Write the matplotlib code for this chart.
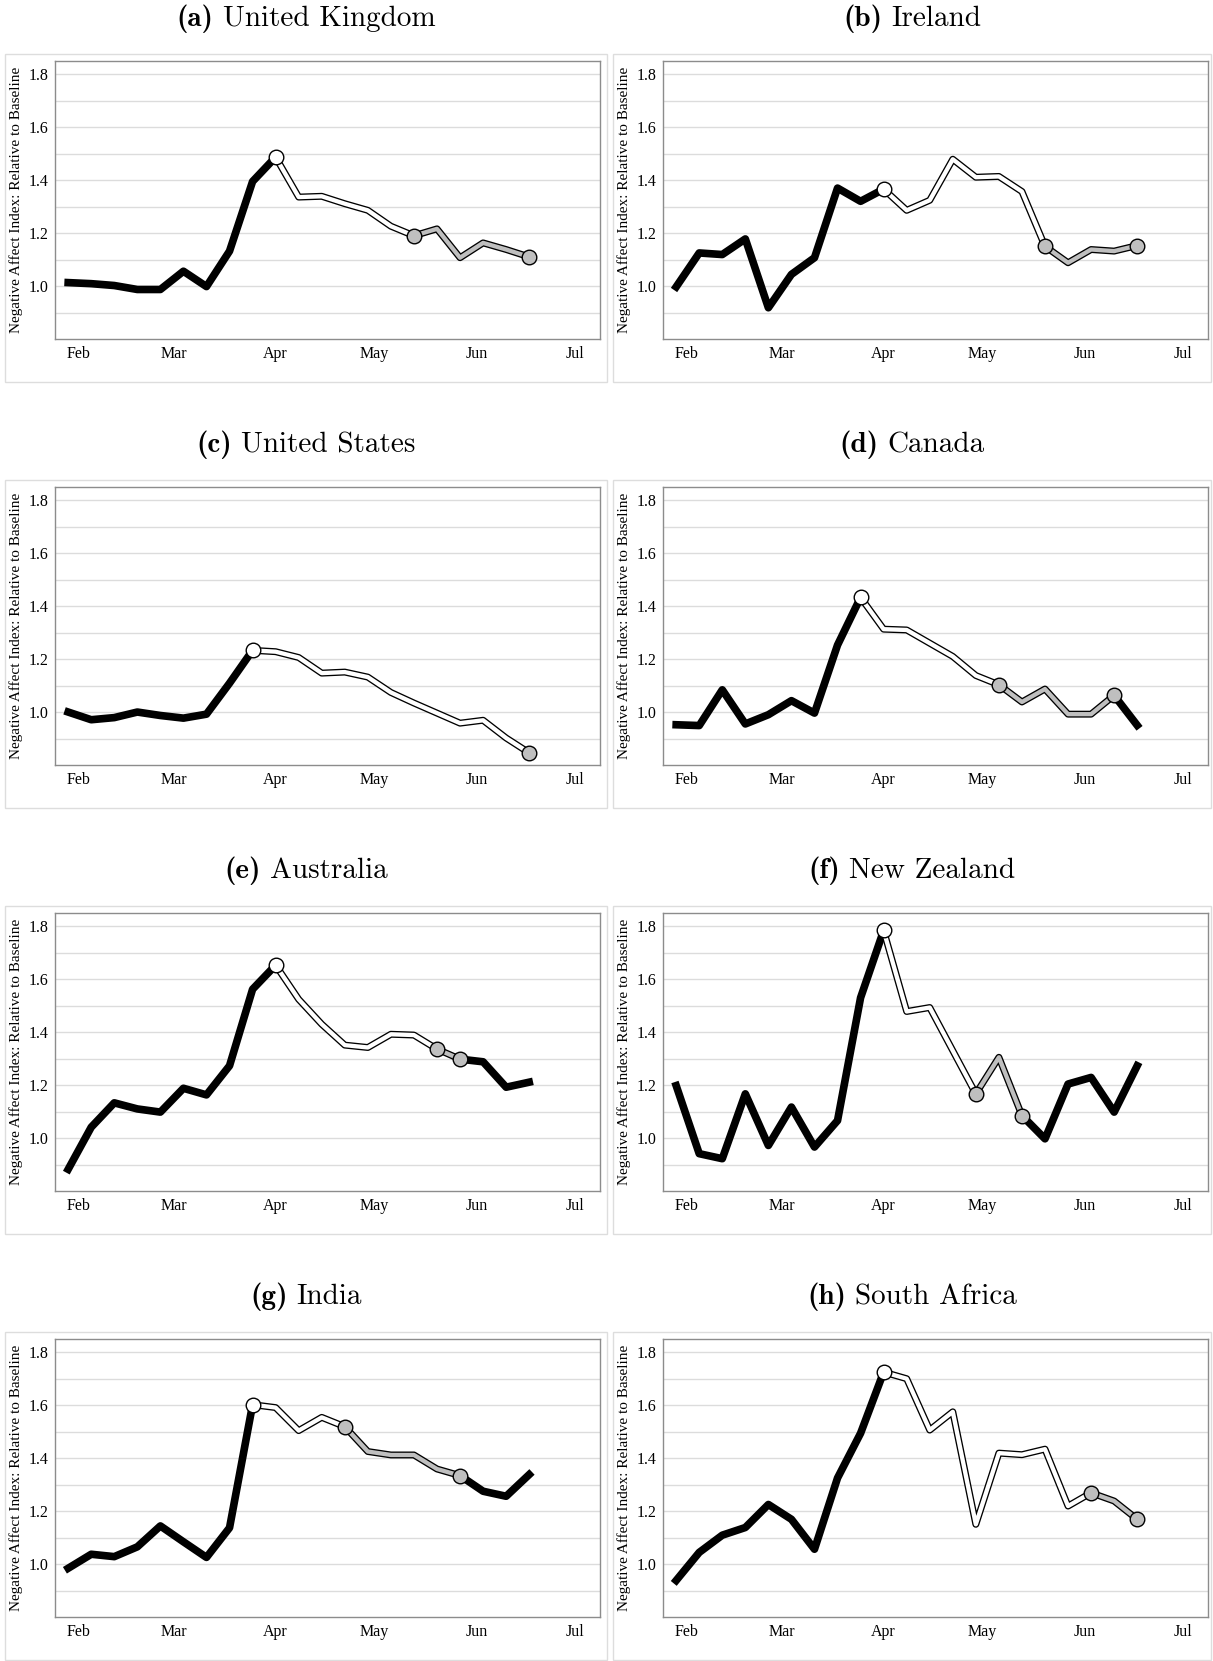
import datetime as dt
import matplotlib
matplotlib.use("Agg")
import matplotlib.pyplot as plt
import matplotlib.dates as mdates
from matplotlib.patches import Rectangle

plt.rcParams['font.family'] = ['Liberation Serif', 'DejaVu Serif']

# weekly observations (Wednesdays)
weeks = [dt.date(2020, 1, 29) + dt.timedelta(days=7 * k) for k in range(21)]

letters = ["a", "b", "c", "d", "e", "f", "g", "h"]
countries = ["United Kingdom", "Ireland", "United States", "Canada",
             "Australia", "New Zealand", "India", "South Africa"]

uk = [1.013, 1.009, 1.002, 0.987, 0.987, 1.056, 0.998, 1.132, 1.395, 1.487, 1.336,
      1.339, 1.311, 1.286, 1.226, 1.190, 1.216, 1.107, 1.163, 1.138, 1.110]
ireland = [0.997, 1.125, 1.119, 1.178, 0.918, 1.044, 1.107, 1.370, 1.320, 1.366, 1.286,
           1.324, 1.479, 1.411, 1.414, 1.357, 1.150, 1.088, 1.138, 1.132, 1.153]
us = [1.000, 0.971, 0.979, 1.000, 0.987, 0.977, 0.992, 1.109, 1.233, 1.228, 1.206,
      1.147, 1.151, 1.132, 1.074, 1.034, 0.996, 0.958, 0.969, 0.902, 0.846]
canada = [0.952, 0.949, 1.084, 0.955, 0.990, 1.043, 0.996, 1.253, 1.433, 1.313, 1.310,
          1.260, 1.210, 1.138, 1.103, 1.038, 1.087, 0.992, 0.992, 1.063, 0.950]
australia = [0.882, 1.041, 1.133, 1.110, 1.098, 1.188, 1.163, 1.273, 1.562, 1.653, 1.524,
             1.430, 1.351, 1.342, 1.392, 1.389, 1.336, 1.298, 1.288, 1.192, 1.211]
new_zealand = [1.198, 0.941, 0.922, 1.167, 0.972, 1.117, 0.966, 1.066, 1.530, 1.784, 1.478,
               1.493, 1.330, 1.167, 1.305, 1.085, 0.997, 1.204, 1.229, 1.098, 1.273]
india = [0.984, 1.037, 1.028, 1.065, 1.144, 1.084, 1.025, 1.137, 1.602, 1.591, 1.504,
         1.554, 1.519, 1.425, 1.412, 1.412, 1.359, 1.334, 1.275, 1.256, 1.338]
south_africa = [0.938, 1.044, 1.109, 1.138, 1.225, 1.169, 1.056, 1.325, 1.494, 1.725, 1.700,
                1.506, 1.575, 1.150, 1.419, 1.413, 1.434, 1.219, 1.269, 1.238, 1.169]
series = [uk, ireland, us, canada, australia, new_zealand, india, south_africa]

# week index of lockdown start, easing start and easing end
lockdown_idx = [9, 9, 8, 8, 9, 9, 8, 9]
ease_start_idx = [15, 16, 20, 14, 16, 13, 12, 18]
ease_end_idx = [20, 20, 20, 19, 17, 15, 17, 20]

W, H = 1213, 1661
fig = plt.figure(figsize=(W / 100, H / 100), dpi=100)
renderer = fig.canvas.get_renderer()

col_ax = [(55, 600), (663, 1208)]
col_box = [(5, 607), (613, 1211)]
GREY = "#bfbfbf"


def outlined(ax, x, y, color):
    ax.plot(x, y, color="black", lw=5.0, solid_joinstyle="round", zorder=3)
    ax.plot(x, y, color=color, lw=3.1, solid_joinstyle="round", zorder=4)


for i, vals in enumerate(series):
    r, c = divmod(i, 2)
    top = 61 + r * 426
    ax_h = 278
    x0, x1 = col_ax[c]
    ax = fig.add_axes([x0 / W, 1 - (top + ax_h) / H, (x1 - x0) / W, ax_h / H])

    bx0, bx1 = col_box[c]
    fig.patches.append(Rectangle((bx0 / W, 1 - (top + ax_h + 43) / H), (bx1 - bx0) / W,
                                 (ax_h + 50) / H, transform=fig.transFigure,
                                 fill=False, ec="#dddddd", lw=1))

    L, E1, E2 = lockdown_idx[i], ease_start_idx[i], ease_end_idx[i]
    ax.plot(weeks[:L + 1], vals[:L + 1], color="black", lw=5.5, zorder=3)
    outlined(ax, weeks[L:E1 + 1], vals[L:E1 + 1], "white")
    if E2 > E1:
        outlined(ax, weeks[E1:E2 + 1], vals[E1:E2 + 1], GREY)
    if E2 < len(vals) - 1:
        ax.plot(weeks[E2:], vals[E2:], color="black", lw=5.5, zorder=3)

    ax.plot(weeks[L], vals[L], "o", ms=10.5, mfc="white", mec="black", mew=1, zorder=6)
    for k in sorted(set([E1, E2])):
        ax.plot(weeks[k], vals[k], "o", ms=10.5, mfc=GREY, mec="black", mew=1, zorder=6)

    ax.set_ylim(0.8, 1.85)
    ax.set_xlim(dt.datetime(2020, 1, 25), dt.datetime(2020, 7, 8, 12))
    ax.set_yticks([1.0, 1.2, 1.4, 1.6, 1.8])
    ax.set_yticks([0.9, 1.1, 1.3, 1.5, 1.7], minor=True)
    ax.set_yticklabels(["1.0", "1.2", "1.4", "1.6", "1.8"])
    ax.xaxis.set_major_locator(mdates.MonthLocator(bymonth=[2, 3, 4, 5, 6, 7]))
    ax.xaxis.set_major_formatter(mdates.DateFormatter("%b"))
    ax.grid(axis="y", which="both", color="#dcdcdc", lw=1)
    ax.set_axisbelow(True)
    ax.tick_params(which="both", length=0, labelsize=11.5, pad=5)
    for s in ax.spines.values():
        s.set_color("#8c8c8c")
        s.set_linewidth(1)
    ax.set_ylabel("Negative Affect Index: Relative to Baseline", fontsize=11, va="center")
    ax.yaxis.set_label_coords(-(x0 - bx0 - 11) / (x1 - x0), 0.5)

    # title: bold "(x)" followed by country name, centred over the panel box
    ty = 1 - (top - 42) / H
    t1 = fig.text(0, ty, "(" + letters[i] + ")", family="cmb10", fontsize=21,
                  ha="left", va="center")
    t2 = fig.text(0, ty, countries[i], family="cmr10", fontsize=21,
                  ha="left", va="center")
    w1 = t1.get_window_extent(renderer).width
    w2 = t2.get_window_extent(renderer).width
    gap = 9
    start = (bx0 + bx1) / 2 - (w1 + gap + w2) / 2
    t1.set_x(start / W)
    t2.set_x((start + w1 + gap) / W)

fig.savefig("out.png", dpi=100)
